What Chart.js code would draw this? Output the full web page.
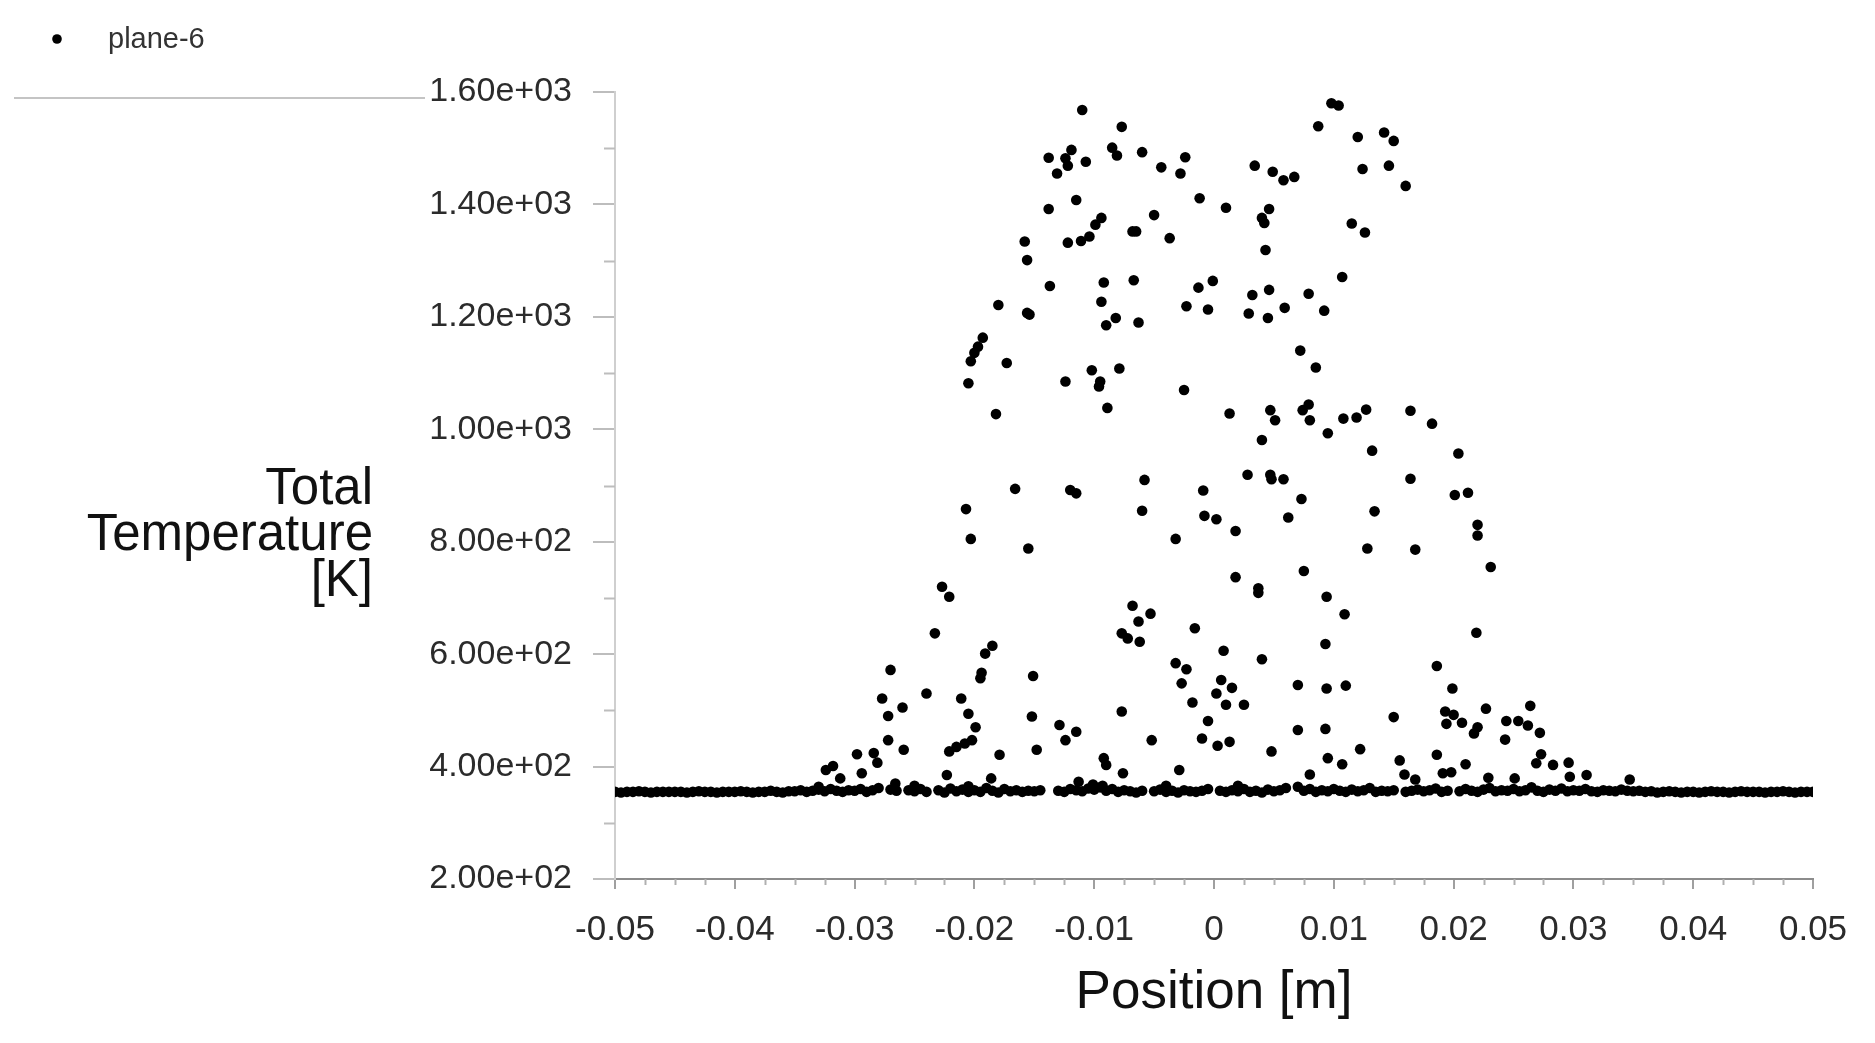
<!DOCTYPE html>
<html>
<head>
<meta charset="utf-8">
<script src="https://cdn.jsdelivr.net/npm/chart.js@4.4.1/dist/chart.umd.min.js"></script>
<style>
  html, body { margin: 0; padding: 0; background: #fff; }
  #wrap { width: 1875px; height: 1043px; }
</style>
</head>
<body>
<div id="wrap"><canvas id="chart" width="1875" height="1043"></canvas></div>
<script>
'use strict';

// series name + axis text
const seriesName = 'plane-6';
const xTitle = 'Position [m]';
const yTitleLines = ['Total', 'Temperature', '[K]'];
const xTickLabels = ['-0.05', '-0.04', '-0.03', '-0.02', '-0.01', '0', '0.01', '0.02', '0.03', '0.04', '0.05'];
const yTickLabels = ['2.00e+02', '4.00e+02', '6.00e+02', '8.00e+02', '1.00e+03', '1.20e+03', '1.40e+03', '1.60e+03'];

// dense row of points at the inlet temperature
const baseX = [
  -0.0500, -0.0495, -0.0490, -0.0485, -0.0480, -0.0475, -0.0470, -0.0465, -0.0460, -0.0455,
  -0.0450, -0.0445, -0.0440, -0.0435, -0.0430, -0.0425, -0.0420, -0.0415, -0.0410, -0.0405,
  -0.0400, -0.0395, -0.0390, -0.0385, -0.0380, -0.0375, -0.0370, -0.0365, -0.0360, -0.0355,
  -0.0350, -0.0345, -0.0340, -0.0335, -0.0330, -0.0325, -0.0320, -0.0315, -0.0310, -0.0305,
  -0.0300, -0.0295, -0.0290, -0.0285, -0.0280, -0.0270, -0.0265, -0.0255,
  -0.0250, -0.0245, -0.0240, -0.0230, -0.0225, -0.0220, -0.0215, -0.0210, -0.0205,
  -0.0200, -0.0195, -0.0190, -0.0185, -0.0180, -0.0175, -0.0170, -0.0165, -0.0160, -0.0155,
  -0.0150, -0.0145, -0.0130, -0.0125, -0.0120, -0.0115, -0.0110, -0.0105,
  -0.0100, -0.0095, -0.0090, -0.0085, -0.0080, -0.0075, -0.0070, -0.0065, -0.0060,
  -0.0050, -0.0045, -0.0040, -0.0035, -0.0030, -0.0025, -0.0020, -0.0015, -0.0010, -0.0005,
  0.0005, 0.0010, 0.0015, 0.0020, 0.0025, 0.0030, 0.0035, 0.0040, 0.0045,
  0.0050, 0.0055, 0.0060, 0.0070, 0.0075, 0.0080, 0.0085, 0.0090, 0.0095,
  0.0100, 0.0105, 0.0110, 0.0115, 0.0120, 0.0125, 0.0130, 0.0135, 0.0140, 0.0145,
  0.0150, 0.0160, 0.0165, 0.0170, 0.0175, 0.0180, 0.0185, 0.0190, 0.0195,
  0.0205, 0.0210, 0.0215, 0.0220, 0.0225, 0.0230, 0.0235, 0.0240, 0.0245,
  0.0250, 0.0255, 0.0260, 0.0265, 0.0270, 0.0275, 0.0280, 0.0285, 0.0290, 0.0295,
  0.0300, 0.0305, 0.0310, 0.0315, 0.0320, 0.0325, 0.0330, 0.0335, 0.0340, 0.0345,
  0.0350, 0.0355, 0.0360, 0.0365, 0.0370, 0.0375, 0.0380, 0.0385, 0.0390, 0.0395,
  0.0400, 0.0405, 0.0410, 0.0415, 0.0420, 0.0425, 0.0430, 0.0435, 0.0440, 0.0445,
  0.0450, 0.0455, 0.0460, 0.0465, 0.0470, 0.0475, 0.0480, 0.0485, 0.0490, 0.0495, 0.0500
];
const baseT = [
  355, 354, 355, 355, 356, 355, 354, 355, 355, 355,
  355, 355, 354, 355, 356, 355, 355, 354, 355, 355,
  355, 356, 355, 354, 355, 355, 357, 355, 354, 356,
  356, 358, 355, 357, 359, 356, 360, 357, 355, 358,
  357, 360, 355, 358, 362, 359, 357, 358,
  356, 360, 355, 358, 354, 361, 356, 359, 355,
  358, 355, 362, 357, 354, 360, 356, 358, 355, 357,
  356, 358, 357, 355, 360, 358, 356, 361,
  359, 363, 357, 360, 355, 358, 356, 354, 357,
  356, 359, 355, 357, 354, 358, 356, 355, 357, 360,
  357, 355, 358, 356, 360, 355, 357, 354, 359,
  356, 358, 362, 364, 357, 360, 355, 358, 356,
  360, 357, 355, 359, 356, 358, 362, 355, 357, 356,
  358, 355, 357, 359, 356, 358, 361, 355, 357,
  356, 360, 357, 355, 359, 362, 356, 358, 357,
  360, 356, 358, 363, 357, 355, 359, 357, 361, 356,
  358, 357, 360, 356, 355, 358, 357, 356, 359, 357,
  356, 357, 355, 356, 354, 355, 356, 355, 354, 355,
  355, 354, 355, 356, 355, 355, 354, 355, 356, 355,
  355, 355, 354, 355, 355, 356, 355, 354, 355, 355, 355
];

// scattered points above the row
const spreadX = [
  -0.0110, -0.0077, -0.0138, -0.0119, -0.0124, -0.0122, -0.0131, -0.0107, -0.0085, -0.0081,
  -0.0060, -0.0044, -0.0024, -0.0028, -0.0138, -0.0115, -0.0012, 0.0010, -0.0094, -0.0099,
  -0.0104, -0.0111, -0.0122, -0.0068, -0.0065, -0.0050, -0.0037, -0.0158, -0.0156, -0.0137,
  -0.0092, -0.0067, -0.0094, -0.0013, -0.0001, -0.0023, -0.0005, -0.0180, -0.0156, -0.0154,
  -0.0082, -0.0090, -0.0063, -0.0193, -0.0197, -0.0200, -0.0203, -0.0173, -0.0205, -0.0124,
  -0.0102, -0.0079, -0.0095, -0.0096, -0.0025, -0.0182, -0.0089,
  0.0098, 0.0104, 0.0087, 0.0120, 0.0142, 0.0150, 0.0034, 0.0049, 0.0058, 0.0067,
  0.0124, 0.0146, 0.0160, 0.0046, 0.0040, 0.0042, 0.0115, 0.0126, 0.0043, 0.0107,
  0.0032, 0.0046, 0.0079, 0.0029, 0.0045, 0.0059, 0.0092, 0.0072, 0.0085, 0.0013,
  0.0047, 0.0051, 0.0074, 0.0079, 0.0080, 0.0095, 0.0108, 0.0119, 0.0127, 0.0164,
  0.0182, 0.0040,
  -0.0166, -0.0120, -0.0115, -0.0058, -0.0060, -0.0009, -0.0008, 0.0002, -0.0207, -0.0203,
  -0.0155, -0.0032, -0.0227, -0.0221, -0.0233, -0.0068, -0.0063, -0.0053, -0.0077, -0.0072,
  -0.0062, -0.0016, -0.0185, -0.0191, -0.0194, -0.0195, 0.0008, -0.0270, -0.0151, -0.0032,
  -0.0023, -0.0027, 0.0006, 0.0002, -0.0277, -0.0240, -0.0211, -0.0260, -0.0272, -0.0205,
  -0.0199, -0.0152, -0.0077, -0.0018, -0.0005, 0.0010, -0.0272, -0.0259, -0.0221, -0.0215,
  -0.0208, -0.0202, -0.0179, -0.0148, -0.0129, -0.0124, -0.0115, -0.0052, -0.0010, 0.0003,
  -0.0298, -0.0284, -0.0281, -0.0324, -0.0318, -0.0312, -0.0294, -0.0092, -0.0090, -0.0076,
  -0.0223, -0.0029, -0.0266, -0.0186, -0.0113,
  0.0132, 0.0204, 0.0028, 0.0047, 0.0048, 0.0058, 0.0073, 0.0062, 0.0164, 0.0134,
  0.0201, 0.0212, 0.0220, 0.0220, 0.0018, 0.0128, 0.0168, 0.0231, 0.0018, 0.0037,
  0.0037, 0.0075, 0.0094, 0.0109, 0.0093, 0.0219, 0.0040, 0.0186, 0.0015, 0.0070,
  0.0094, 0.0110, 0.0199, 0.0025, 0.0193, 0.0200, 0.0207, 0.0194, 0.0227, 0.0220,
  0.0217, 0.0244, 0.0254, 0.0262, 0.0272, 0.0264, 0.0243, 0.0150, 0.0013, 0.0070,
  0.0093, 0.0048, 0.0122, 0.0095, 0.0107, 0.0155, 0.0186, 0.0210, 0.0273, 0.0269,
  0.0283, 0.0296, 0.0080, 0.0159, 0.0168, 0.0191, 0.0198, 0.0297, 0.0311, 0.0229,
  0.0251, 0.0347,
  -0.0101, -0.0093, -0.0040, -0.0250, -0.0330, -0.0205, 0.0020
];
const spreadT = [
  1568, 1538, 1483, 1497, 1482, 1469, 1455, 1476, 1501, 1487,
  1493, 1466, 1484, 1455, 1392, 1408, 1411, 1394, 1376, 1364,
  1343, 1335, 1332, 1352, 1352, 1381, 1340, 1334, 1301, 1255,
  1261, 1265, 1227, 1252, 1264, 1219, 1213, 1221, 1207, 1204,
  1198, 1185, 1190, 1163, 1147, 1136, 1121, 1118, 1082, 1085,
  1105, 1108, 1085, 1076, 1070, 1027, 1038,
  1580, 1576, 1539, 1520, 1528, 1513, 1469, 1458, 1443, 1449,
  1463, 1469, 1433, 1392, 1376, 1367, 1366, 1350, 1319, 1271,
  1239, 1248, 1241, 1206, 1198, 1216, 1211, 1140, 1110, 1028,
  1034, 1016, 1034, 1044, 1016, 993, 1019, 1021, 1035, 1033,
  1010, 981,
  894, 892, 886, 910, 855, 891, 846, 840, 858, 805,
  788, 805, 720, 702, 637, 686, 658, 672, 637, 628,
  622, 646, 615, 601, 567, 557, 606, 572, 561, 584,
  573, 548, 554, 530, 521, 530, 521, 505, 490, 494,
  470, 489, 498, 514, 481, 510, 447, 430, 427, 435,
  441, 447, 421, 430, 474, 447, 462, 447, 450, 437,
  422, 424, 407, 394, 401, 379, 388, 415, 403, 388,
  385, 394, 370, 379, 373,
  962, 957, 919, 919, 911, 911, 876, 843, 912, 854,
  883, 887, 830, 811, 819, 788, 786, 755, 737, 717,
  709, 748, 702, 671, 618, 638, 591, 579, 540, 545,
  539, 544, 539, 510, 498, 492, 478, 476, 503, 470,
  459, 481, 481, 473, 460, 508, 448, 488, 444, 465,
  467, 427, 431, 415, 404, 411, 421, 404, 422, 406,
  403, 407, 386, 386, 377, 388, 390, 382, 385, 380,
  379, 377,
  368, 366, 366, 366, 364, 365, 366
];

const fontFamily = '"Liberation Sans", Arial, Helvetica, sans-serif';

let points = [];
for (let i = 0; i < baseX.length; i++) {
    points.push({ x: baseX[i], y: baseT[i] });
}
for (let i = 0; i < spreadX.length; i++) {
    points.push({ x: spreadX[i], y: spreadT[i] });
}

// legend, y title, stray rule line and minor ticks
const extras = {
    id: 'extras',
    afterDraw(chart) {
        const c = chart.ctx;
        const xs = chart.scales.x;
        const ys = chart.scales.y;
        c.save();

        // minor ticks
        c.strokeStyle = '#bdbdbd';
        c.lineWidth = 2;
        for (let v = ys.min + 100; v < ys.max; v += 200) {
            let py = Math.round(ys.getPixelForValue(v)) + 0.5;
            c.beginPath();
            c.moveTo(ys.right - 11, py);
            c.lineTo(ys.right, py);
            c.stroke();
        }
        c.strokeStyle = '#b0b0b0';
        for (let k = 1; k < 40; k++) {
            if (k % 4 === 0) continue;
            let px = Math.round(xs.getPixelForValue(xs.min + k * 0.0025)) + 0.5;
            c.beginPath();
            c.moveTo(px, xs.top);
            c.lineTo(px, xs.top + 6);
            c.stroke();
        }

        // stray rule under the legend
        c.strokeStyle = '#c4c4c4';
        c.lineWidth = 2;
        c.beginPath();
        c.moveTo(14, 98);
        c.lineTo(425, 98);
        c.stroke();

        // legend
        c.fillStyle = '#000';
        c.beginPath();
        c.arc(57, 39, 4.8, 0, Math.PI * 2);
        c.fill();
        c.font = '29px ' + fontFamily;
        c.fillStyle = '#333';
        c.textAlign = 'left';
        c.textBaseline = 'middle';
        c.fillText(chart.data.datasets[0].label, 108, 40);

        // y title, not rotated
        c.font = '51px ' + fontFamily;
        c.fillStyle = '#111';
        c.textAlign = 'right';
        let lineY = [490, 536, 582];
        for (let i = 0; i < yTitleLines.length; i++) {
            c.fillText(yTitleLines[i], 373, lineY[i]);
        }
        c.restore();
    }
};

let ctx = document.getElementById('chart').getContext('2d');
let myChart = new Chart(ctx, {
    type: 'scatter',
    data: {
        datasets: [{
            label: seriesName,
            data: points,
            backgroundColor: '#000',
            borderWidth: 0,
            pointRadius: 5.3,
            pointHoverRadius: 5.3,
        }],
    },
    options: {
        responsive: false,
        animation: false,
        layout: { padding: { top: 92, right: 62, left: 0, bottom: 0 } },
        plugins: {
            legend: { display: false },
            tooltip: { enabled: false },
        },
        scales: {
            x: {
                type: 'linear',
                min: -0.05,
                max: 0.05,
                ticks: {
                    stepSize: 0.01,
                    autoSkip: false,
                    maxRotation: 0,
                    padding: 20,
                    color: '#2b2b2b',
                    font: { family: fontFamily, size: 35 },
                    callback: function (v, i) { return xTickLabels[i]; },
                },
                grid: { drawOnChartArea: false, tickLength: 10, color: '#a0a0a0', lineWidth: 2 },
                border: { color: '#8c8c8c', width: 2 },
                title: {
                    display: true,
                    text: xTitle,
                    color: '#111',
                    font: { family: fontFamily, size: 53 },
                    padding: { top: 0, bottom: 18 },
                },
                afterFit: function (s) { s.height = 164; },
            },
            y: {
                type: 'linear',
                min: 200,
                max: 1600,
                ticks: {
                    stepSize: 200,
                    autoSkip: false,
                    padding: 21,
                    color: '#2b2b2b',
                    font: { family: fontFamily, size: 34 },
                    callback: function (v, i) { return yTickLabels[i]; },
                },
                grid: { drawOnChartArea: false, tickLength: 22, color: '#bdbdbd', lineWidth: 2 },
                border: { color: '#cfcfcf', width: 2 },
                afterFit: function (s) { s.width = 615; },
            },
        },
    },
    plugins: [extras],
});
</script>
</body>
</html>
